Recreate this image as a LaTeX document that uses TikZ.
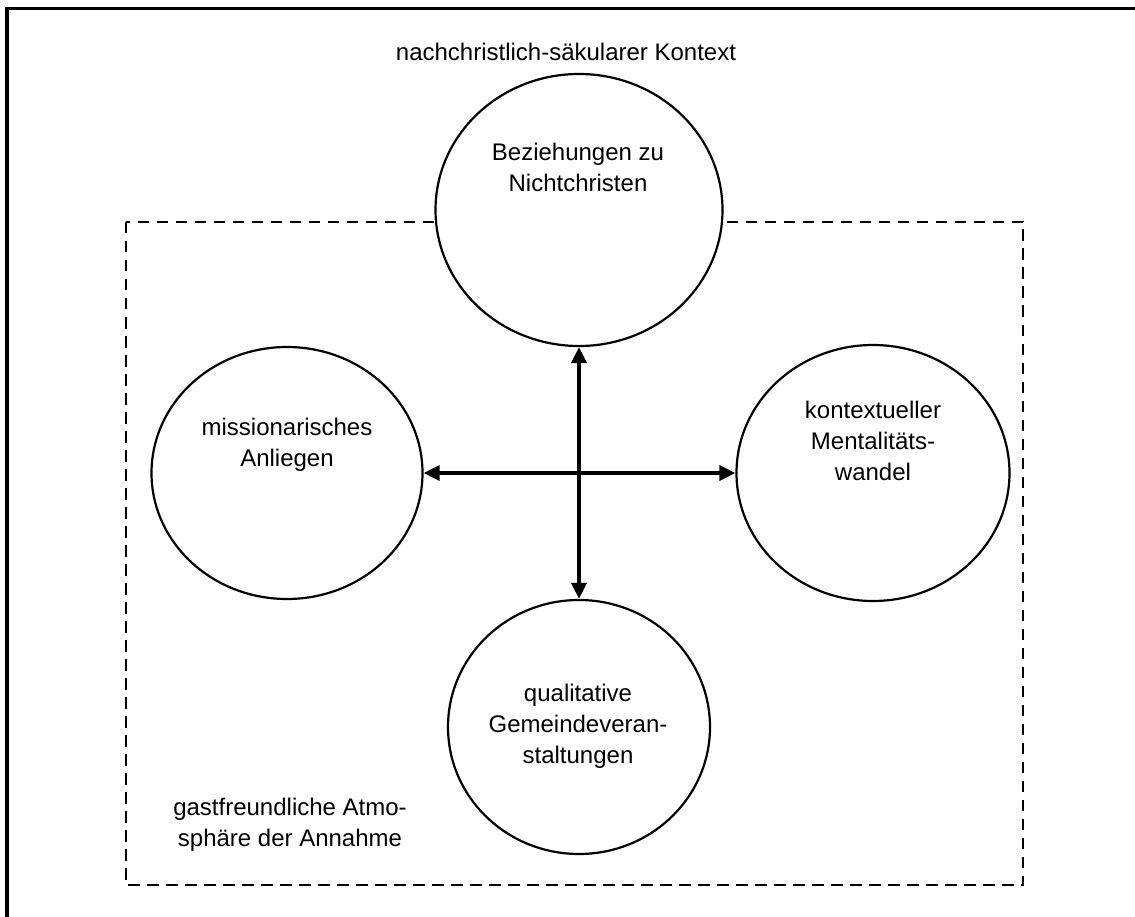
\documentclass[tikz,border=0pt]{standalone}
\usepackage{fontspec}
\setmainfont{Liberation Sans}
\usetikzlibrary{shapes.geometric,arrows.meta}
\begin{document}
\begin{tikzpicture}[x=1pt,y=-1pt,
  bubble/.style={ellipse,draw,line width=2.2pt,fill=white,inner sep=0pt},
  lbl/.style={font=\fontsize{24}{31}\selectfont,align=center,inner sep=0pt},
  link/.style={line width=3.6pt,{Triangle[length=16pt,width=15pt]}-{Triangle[length=16pt,width=15pt]}}]
\useasboundingbox (0,0) rectangle (1135,917);
% outer frame (cropped)
\draw[line width=3.6pt] (7,917) -- (7,8.5) -- (1135,8.5);
\node[lbl] (ctx) at (566,52) {nachchristlich-säkularer Kontext};
% dashed box
\draw[line width=2.8pt,dash pattern=on 11.5pt off 7.5pt] (126,222) rectangle (1023,885);
% circles
\node[bubble,minimum width=287pt,minimum height=272pt] (top) at (579,210) {};
\node[bubble,minimum width=271pt,minimum height=252pt] (left) at (287,473) {};
\node[bubble,minimum width=273pt,minimum height=256pt] (right) at (873,473) {};
\node[bubble,minimum width=262pt,minimum height=254pt] (bottom) at (579,727) {};
% texts
\node[lbl] (ttop) at (578,167) {Beziehungen zu\\Nichtchristen};
\node[lbl] (tleft) at (287,445) {missionarisches\\Anliegen};
\node[lbl] (tright) at (873,441) {kontextueller\\Mentalitäts-\\wandel};
\node[lbl] (tbottom) at (578,726) {qualitative\\Gemeindeveran-\\staltungen};
\node[lbl] (atmo) at (290,825) {gastfreundliche Atmo-\\sphäre der Annahme};
% connectors
\draw[link] (left.east) -- (right.west);
\draw[link] (top.south) -- (bottom.north);
\end{tikzpicture}
\end{document}
